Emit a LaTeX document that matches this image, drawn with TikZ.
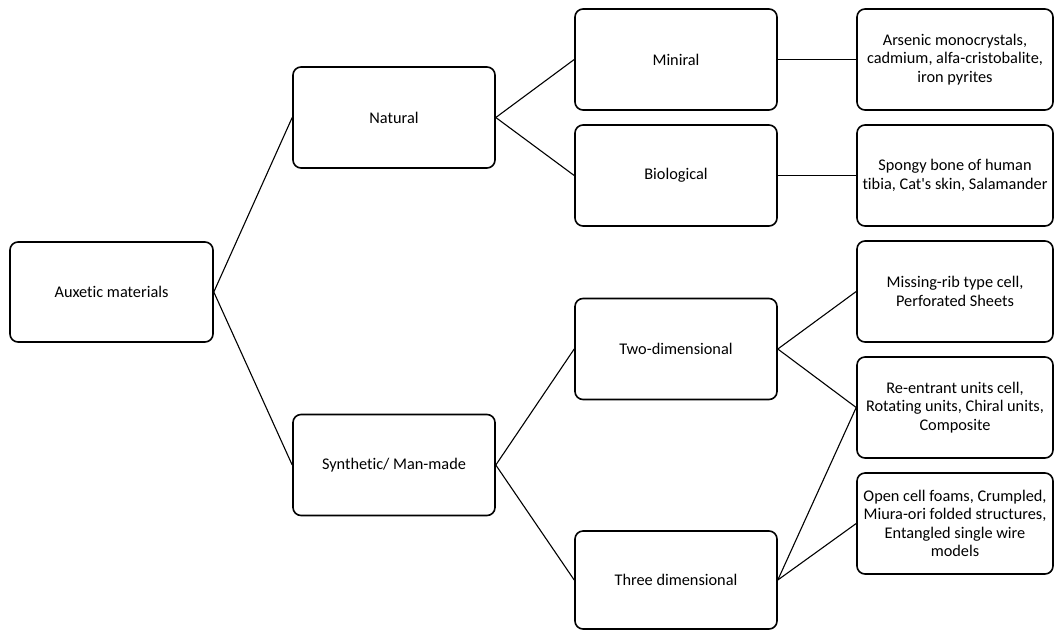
\documentclass[tikz,border=0pt]{standalone}
\usepackage{fontspec}
\setmainfont{Carlito}[Ligatures={NoCommon}]
\usetikzlibrary{positioning}

\begin{document}
\begin{tikzpicture}[x=1pt,y=-1pt,node distance=116pt]
\tikzstyle{cat}=[draw,line width=1.6pt,rounded corners=8pt,minimum width=202pt,minimum height=101pt,align=center,inner xsep=1pt,font=\fontsize{16.3}{18.5}\selectfont]
\tikzstyle{ex}=[cat,minimum width=196pt]
\useasboundingbox (0,0) rectangle (1054,630);
\node [cat,minimum width=203pt,minimum height=100pt] (a) at (111.5,292) {Auxetic materials};
\node [cat] (b) at (394,117.5) {Natural};
\node [cat] (c) at (394,465) {Synthetic/ Man-made};

\node [cat] (d) at (676,59.5) {Miniral};
\node [cat,below of=d] (e) {Biological};
\node [cat] (f) at (676,349) {Two-dimensional};
\node [cat,minimum height=98pt] (g) at (676,580) {Three dimensional};

\node [ex] (h) at (955,59.5) {Arsenic monocrystals,\\cadmium, alfa-cristobalite,\\iron pyrites};
\node [ex,below of=h] (i) {Spongy bone of human\\tibia, Cat\textquotesingle s skin, Salamander};
\node [ex,below of=i] (j) {Missing-rib type cell,\\Perforated Sheets};
\node [ex,below of=j] (k) {Re-entrant units cell,\\Rotating units, Chiral units,\\Composite};
\node [ex,below of=k] (l) {Open cell foams, Crumpled,\\Miura-ori folded structures,\\Entangled single wire\\models};
\path[line width=1.1pt]
(a.east) edge (b.west)
(a.east) edge (c.west)
(b.east) edge (d.west)
(b.east) edge (e.west)
(c.east) edge (f.west)
(c.east) edge (g.west)
(d.east) edge (h.west)
(e.east) edge (i.west)
(f.east) edge (j.west)
(f.east) edge (k.west)
(g.east) edge (k.west)
(g.east) edge (l.west);
\end{tikzpicture}
\end{document}
